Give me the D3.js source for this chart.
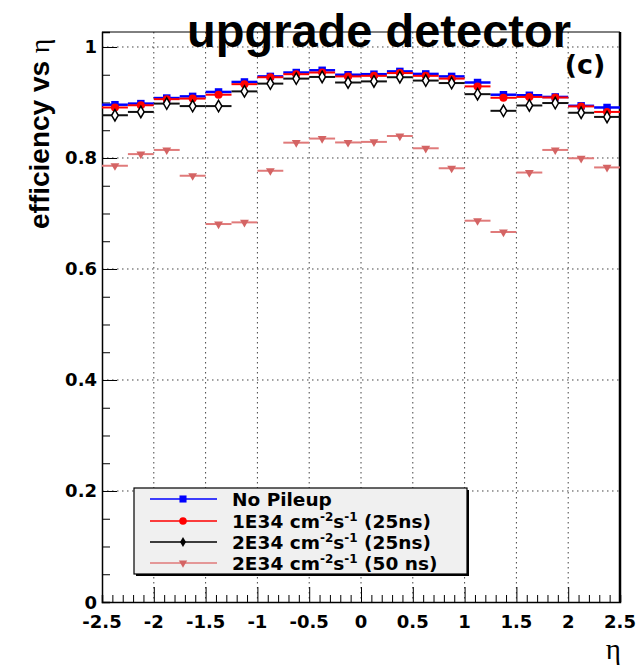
<!DOCTYPE html>
<html lang="en">
<head>
  <meta charset="UTF-8">
  <title>efficiency vs eta</title>
  <style>
    body { margin: 0; background: #fff; }
  </style>
</head>
<body>
  <svg id="svg" width="641" height="666"></svg>

  <script src="https://d3js.org/d3.v7.min.js"></script>
  <script>
    // lower edge of each eta bin (bins are 0.25 wide)
    const etaLow = [-2.5, -2.25, -2, -1.75, -1.5, -1.25, -1, -0.75, -0.5, -0.25,
                    0, 0.25, 0.5, 0.75, 1, 1.25, 1.5, 1.75, 2, 2.25]
    const binWidth = 0.25

    const noPileup = [0.896, 0.898, 0.908, 0.911, 0.919, 0.937, 0.947, 0.954, 0.958, 0.950,
                      0.951, 0.956, 0.9515, 0.947, 0.936, 0.914, 0.913, 0.910, 0.894, 0.891]
    const lumi1e34 = [0.891, 0.895, 0.906, 0.907, 0.914, 0.933, 0.9455, 0.951, 0.954, 0.947,
                      0.948, 0.953, 0.948, 0.943, 0.929, 0.9085, 0.910, 0.909, 0.893, 0.883]
    const lumi2e34 = [0.877, 0.883, 0.898, 0.8935, 0.8935, 0.920, 0.934, 0.943, 0.946, 0.936,
                      0.938, 0.9455, 0.9395, 0.935, 0.915, 0.885, 0.8946, 0.899, 0.8815, 0.874]
    const lumi2e34_50ns = [0.786, 0.807, 0.8145, 0.768, 0.681, 0.684, 0.777, 0.8276, 0.835, 0.828,
                           0.829, 0.8396, 0.8175, 0.7815, 0.687, 0.6666, 0.7738, 0.8145, 0.7995, 0.783]

    const xTicks = [-2.5, -2, -1.5, -1, -0.5, 0, 0.5, 1, 1.5, 2, 2.5]
    const xTickLabels = ['-2.5', '-2', '-1.5', '-1', '-0.5', '0', '0.5', '1', '1.5', '2', '2.5']
    const yTicks = [0, 0.2, 0.4, 0.6, 0.8, 1]
    const yTickLabels = ['0', '0.2', '0.4', '0.6', '0.8', '1']

    // legend text: [before sup, sup, middle, sup, after]
    const legendLabels = [
      ['No Pileup'],
      ['1E34 cm', '-2', 's', '-1', ' (25ns)'],
      ['2E34 cm', '-2', 's', '-1', ' (25ns)'],
      ['2E34 cm', '-2', 's', '-1', ' (50 ns)']
    ]

    const series = [
      { values: noPileup, line: '#0000ff', width: 2.5, symbol: d3.symbolSquare, size: 56, fill: '#0000ff', stroke: 'none', rot: 0 },
      { values: lumi1e34, line: '#ff0000', width: 2, symbol: d3.symbolCircle, size: 50, fill: '#ff0000', stroke: 'none', rot: 0 },
      { values: lumi2e34, line: '#111', width: 2, symbol: d3.symbolDiamond, size: 38, fill: '#fff', stroke: '#000', rot: 0 },
      { values: lumi2e34_50ns, line: '#e07a7a', width: 2, symbol: d3.symbolTriangle, size: 34, fill: '#d46464', stroke: 'none', rot: 180 }
    ]

    const frameL = 102, frameR = 620, frameT = 32, frameB = 602

    const xScale = d3.scaleLinear()
      .domain([-2.5, 2.5])
      .range([frameL, frameR])

    const yScale = d3.scaleLinear()
      .domain([0, 1.027])
      .range([frameB, frameT])

    const svg = d3.select('#svg')
    const bold = 'DejaVu Sans, sans-serif'

    // dotted grid
    svg.append('g')
      .selectAll('line')
      .data(xTicks.slice(1, -1))
      .enter()
      .append('line')
      .attr('x1', d => xScale(d))
      .attr('x2', d => xScale(d))
      .attr('y1', frameT)
      .attr('y2', frameB)
      .attr('stroke', '#444')
      .attr('stroke-width', 1)
      .attr('stroke-dasharray', '1.5,3.5')

    svg.append('g')
      .selectAll('line')
      .data(yTicks.slice(1))
      .enter()
      .append('line')
      .attr('x1', frameL)
      .attr('x2', frameR)
      .attr('y1', d => yScale(d))
      .attr('y2', d => yScale(d))
      .attr('stroke', '#444')
      .attr('stroke-width', 1)
      .attr('stroke-dasharray', '1.5,3.5')

    // frame
    svg.append('line').attr('x1', frameL).attr('x2', frameR).attr('y1', frameT).attr('y2', frameT)
      .attr('stroke', '#000').attr('stroke-width', 1)
    svg.append('line').attr('x1', frameR).attr('x2', frameR).attr('y1', frameT).attr('y2', frameB)
      .attr('stroke', '#000').attr('stroke-width', 2.5)

    // axes with ROOT style ticks (inside the frame)
    const xAxis = d3.axisBottom(xScale)
      .tickValues(d3.range(-25, 26).map(d => d / 10))
      .tickSize(-7)
      .tickFormat('')
    const gx = svg.append('g').attr('transform', `translate(0,${frameB})`).call(xAxis)
    gx.selectAll('.tick line')
      .filter(d => xTicks.includes(Math.round(d * 10) / 10))
      .attr('y2', -15)

    const yAxis = d3.axisLeft(yScale)
      .tickValues(d3.range(0, 21).map(d => d / 20))
      .tickSize(-8)
      .tickFormat('')
    const gy = svg.append('g').attr('transform', `translate(${frameL},0)`).call(yAxis)
    gy.selectAll('.tick line')
      .filter(d => Math.round(d * 20) % 4 === 0)
      .attr('x2', 15)

    svg.selectAll('.domain')
      .attr('stroke', '#000')
      .attr('stroke-width', 1.5)
    svg.selectAll('.tick line')
      .attr('stroke', '#000')
      .attr('stroke-width', 1)

    // tick labels
    svg.append('g')
      .selectAll('text')
      .data(xTicks)
      .enter()
      .append('text')
      .text((d, i) => xTickLabels[i])
      .attr('x', d => xScale(d))
      .attr('y', 628)
      .attr('text-anchor', 'middle')
      .style('font-family', bold)
      .style('font-weight', 'bold')
      .style('font-size', '18px')

    svg.append('g')
      .selectAll('text')
      .data(yTicks)
      .enter()
      .append('text')
      .text((d, i) => yTickLabels[i])
      .attr('x', 97)
      .attr('y', d => yScale(d) + 6.5)
      .attr('text-anchor', 'end')
      .style('font-family', bold)
      .style('font-weight', 'bold')
      .style('font-size', '18px')

    // data: horizontal error bars + markers
    series.forEach(s => {
      const g = svg.append('g')
      g.selectAll('line')
        .data(s.values)
        .enter()
        .append('line')
        .attr('x1', (d, i) => xScale(etaLow[i]))
        .attr('x2', (d, i) => xScale(etaLow[i] + binWidth))
        .attr('y1', d => yScale(d))
        .attr('y2', d => yScale(d))
        .attr('stroke', s.line)
        .attr('stroke-width', s.width)

      g.selectAll('path')
        .data(s.values)
        .enter()
        .append('path')
        .attr('d', d3.symbol().type(s.symbol).size(s.size))
        .attr('transform', (d, i) => `translate(${xScale(etaLow[i] + binWidth / 2)},${yScale(d)}) rotate(${s.rot})`)
        .attr('fill', s.fill)
        .attr('stroke', s.stroke)
        .attr('stroke-width', 1.5)
    })

    // legend
    const lg = svg.append('g')
    lg.append('rect')
      .attr('x', 136).attr('y', 490).attr('width', 333).attr('height', 86)
      .attr('fill', '#000')
    lg.append('rect')
      .attr('x', 134).attr('y', 488).attr('width', 333).attr('height', 86)
      .attr('fill', '#f0f0f0')
      .attr('stroke', '#000')
      .attr('stroke-width', 1.2)

    const rowY = [499, 521, 542, 563]
    const legendSeries = [
      { line: '#0000ff', symbol: d3.symbolSquare, size: 50, fill: '#0000ff', rot: 0 },
      { line: '#ff0000', symbol: d3.symbolCircle, size: 45, fill: '#ff0000', rot: 0 },
      { line: '#000', symbol: d3.symbolDiamond, size: 30, fill: '#000', rot: 0 },
      { line: '#e07a7a', symbol: d3.symbolTriangle, size: 30, fill: '#d46464', rot: 180 }
    ]

    legendSeries.forEach((s, i) => {
      lg.append('line')
        .attr('x1', 150).attr('x2', 217)
        .attr('y1', rowY[i]).attr('y2', rowY[i])
        .attr('stroke', s.line)
        .attr('stroke-width', 1.5)
      lg.append('path')
        .attr('d', d3.symbol().type(s.symbol).size(s.size))
        .attr('transform', `translate(183,${rowY[i]}) rotate(${s.rot})`)
        .attr('fill', s.fill)

      const parts = legendLabels[i]
      const t = lg.append('text')
        .attr('x', 232)
        .attr('y', rowY[i] + 7)
        .style('font-family', bold)
        .style('font-weight', 'bold')
        .style('font-size', '18.5px')
      t.append('tspan').text(parts[0])
      if (parts.length > 1) {
        t.append('tspan').text(parts[1]).attr('dy', -7).style('font-size', '12px')
        t.append('tspan').text(parts[2]).attr('dy', 7)
        t.append('tspan').text(parts[3]).attr('dy', -7).style('font-size', '12px')
        t.append('tspan').text(parts[4]).attr('dy', 7)
      }
    })

    // titles
    svg.append('text')
      .text('upgrade detector')
      .attr('x', 379)
      .attr('y', 47)
      .attr('text-anchor', 'middle')
      .style('font-family', 'Liberation Sans, Arial, sans-serif')
      .style('font-weight', 'bold')
      .style('font-size', '47px')

    svg.append('text')
      .text('(c)')
      .attr('x', 585)
      .attr('y', 74)
      .attr('text-anchor', 'middle')
      .style('font-family', bold)
      .style('font-weight', 'bold')
      .style('font-size', '27px')

    const ylab = svg.append('text')
      .attr('transform', 'translate(49,229) rotate(-90)')
      .style('font-family', 'Liberation Sans, Arial, sans-serif')
      .style('font-weight', 'bold')
      .style('font-size', '28px')
    ylab.append('tspan').text('efficiency vs ')
    ylab.append('tspan').text('η')
      .style('font-family', 'Liberation Serif, serif')
      .style('font-weight', 'normal')
      .style('font-size', '28px')

    svg.append('text')
      .text('η')
      .attr('x', 621)
      .attr('y', 659)
      .attr('text-anchor', 'end')
      .style('font-family', 'Liberation Serif, serif')
      .style('font-size', '29px')
  </script>
</body>
</html>
